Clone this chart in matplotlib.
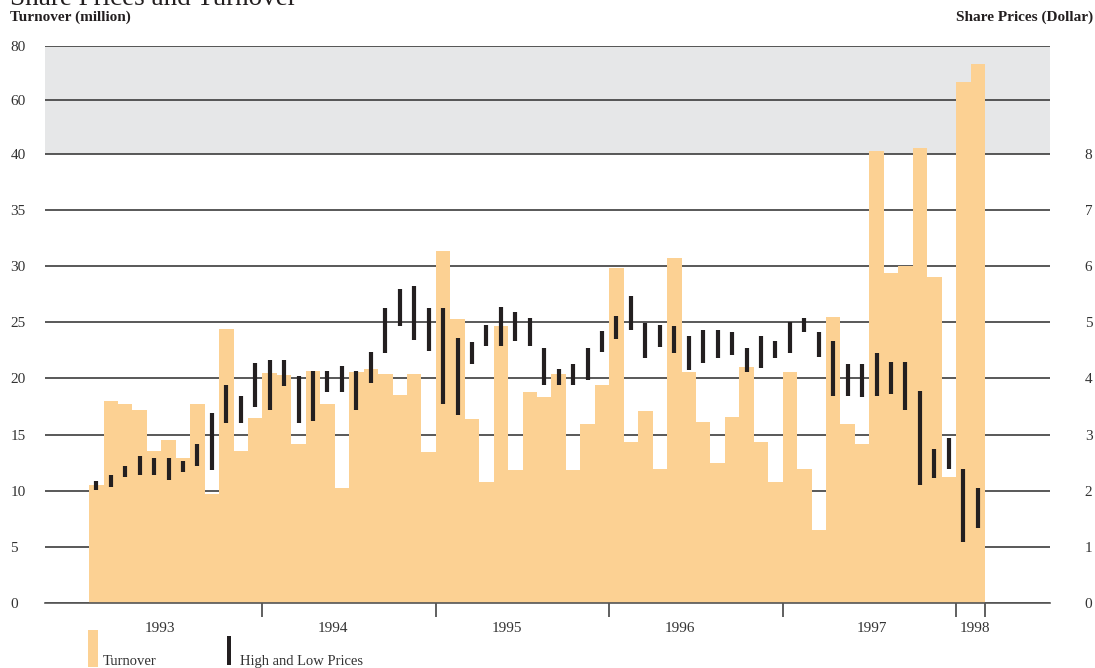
import numpy as np
import matplotlib
matplotlib.use('Agg')
import matplotlib.pyplot as plt
from matplotlib.patches import Rectangle

plt.rcParams['font.family'] = ['Liberation Serif', 'DejaVu Serif']

# monthly data, Jan 1993 - Feb 1998
turnover = [10.5, 18.0, 17.7, 17.15, 13.5, 14.5, 12.9, 17.7, 9.7, 24.4, 13.5, 16.5,
            20.5, 20.3, 14.15, 20.65, 17.7, 10.2, 20.6, 20.8, 20.4, 18.5, 20.35, 13.45,
            31.35, 25.3, 16.4, 10.8, 24.7, 11.8, 18.8, 18.3, 20.4, 11.8, 15.9, 19.4,
            29.85, 14.3, 17.1, 11.9, 30.7, 20.6, 16.1, 12.45, 16.6, 21.0, 14.35, 10.8,
            20.6, 11.9, 6.5, 25.5, 15.95, 14.15, 41.2, 29.4, 30.0, 42.2, 29.0, 11.2,
            66.8, 73.5]
price_high = [2.18, 2.28, 2.44, 2.62, 2.58, 2.58, 2.53, 2.83, 3.38, 3.89, 3.69, 4.28,
              4.32, 4.32, 4.04, 4.13, 4.13, 4.22, 4.13, 4.47, 5.25, 5.59, 5.64, 5.25,
              5.25, 4.72, 4.65, 4.96, 5.28, 5.18, 5.07, 4.55, 4.16, 4.25, 4.55, 4.85,
              5.11, 5.47, 4.98, 4.96, 4.94, 4.75, 4.87, 4.87, 4.82, 4.54, 4.75, 4.66,
              5.01, 5.07, 4.82, 4.66, 4.25, 4.25, 4.46, 4.29, 4.29, 3.77, 2.74, 2.93,
              2.39, 2.05]
price_low = [2.02, 2.06, 2.24, 2.28, 2.28, 2.19, 2.33, 2.44, 2.37, 3.20, 3.20, 3.49,
             3.44, 3.86, 3.20, 3.25, 3.75, 3.75, 3.44, 3.91, 4.45, 4.94, 4.68, 4.49,
             3.54, 3.34, 4.26, 4.57, 4.57, 4.66, 4.57, 3.89, 3.89, 3.89, 3.98, 4.47,
             4.70, 4.87, 4.36, 4.56, 4.46, 4.15, 4.27, 4.36, 4.42, 4.11, 4.18, 4.37,
             4.46, 4.82, 4.39, 3.68, 3.68, 3.66, 3.68, 3.72, 3.43, 2.10, 2.22, 2.38,
             1.08, 1.33]
years = ['1993', '1994', '1995', '1996', '1997', '1998']
year_label_pos = [4.4, 16.4, 28.4, 40.4, 53.7, 60.8]
year_bounds = [11.5, 23.5, 35.5, 47.5, 59.5, 61.5]
left_ticks = [0, 5, 10, 15, 20, 25, 30, 35, 40, 60, 80]
right_ticks = [0, 1, 2, 3, 4, 5, 6, 7, 8]

BAR = '#fcd193'
DARK = '#231f20'
K = 0.24  # compression of the 40-80 band


def fwd(y):
    y = np.asarray(y, dtype=float)
    return np.where(y <= 40, y, 40 + (y - 40) * K)


def inv(v):
    v = np.asarray(v, dtype=float)
    return np.where(v <= 40, v, 40 + (v - 40) / K)


fig = plt.figure(figsize=(10.95, 6.68), dpi=100)
ax = fig.add_axes([45 / 1095, 1 - 603 / 668, 1005 / 1095, 557 / 668])

x = np.arange(len(turnover))
ax.set_yscale('function', functions=(fwd, inv))
ax.axhspan(40, 80, color='#e6e7e8', zorder=0, lw=0)
ax.bar(x, turnover, width=1.0, color=BAR, linewidth=0, zorder=2)
ax.set_ylim(0, 80)
ax.set_xlim(-3.55, 66.0)
ax.set_yticks(left_ticks)
ax.set_yticklabels([str(t) for t in left_ticks])
ax.yaxis.grid(True, color='#3c3c3c', lw=1.2)
ax.set_axisbelow(True)
ax.tick_params(axis='y', length=0, pad=25, labelsize=11, labelcolor='#333333')
for lab in ax.get_yticklabels():
    lab.set_ha('left')

# x axis: year boundary ticks + centred year labels
ax.set_xticks(year_bounds)
ax.set_xticklabels([''] * len(year_bounds))
ax.set_xticks(year_label_pos, minor=True)
ax.set_xticklabels(years, minor=True)
ax.tick_params(axis='x', which='major', length=10, width=1.2, color='#444444', direction='out')
ax.tick_params(axis='x', which='minor', length=0, pad=14, labelsize=11, labelcolor='#333333')

for s in ['left', 'right', 'top']:
    ax.spines[s].set_visible(False)
ax.spines['bottom'].set_color('#555555')
ax.spines['bottom'].set_linewidth(1.2)

# share prices on right axis
ax2 = ax.twinx()
ax2.set_yscale('function', functions=(lambda p: fwd(np.asarray(p) * 5), lambda v: inv(v) / 5))
ax2.set_ylim(0, 16)
ax2.vlines(x, price_low, price_high, color=DARK, lw=3, zorder=3)
ax2.set_yticks(right_ticks)
ax2.set_yticklabels([str(t) for t in right_ticks])
ax2.tick_params(axis='y', length=0, pad=25, labelsize=11, labelcolor='#333333')
for s in ax2.spines.values():
    s.set_visible(False)

# titles
fig.text(10 / 1095, 1 - 5 / 668, 'Share Prices and Turnover', fontsize=19.5, ha='left', va='baseline', color=DARK)
fig.text(10 / 1095, 1 - 21 / 668, 'Turnover (million)', fontsize=11, fontweight='bold', ha='left', va='baseline', color=DARK)
fig.text(1093 / 1095, 1 - 21 / 668, 'Share Prices (Dollar)', fontsize=11, fontweight='bold', ha='right', va='baseline', color=DARK)

# legend
fig.add_artist(Rectangle((88 / 1095, 1 - 667 / 668), 10 / 1095, 37 / 668, transform=fig.transFigure, color=BAR, lw=0))
fig.text(103 / 1095, 1 - 665 / 668, 'Turnover', fontsize=10.5, ha='left', va='baseline', color='#333333')
fig.add_artist(Rectangle((227 / 1095, 1 - 665 / 668), 4 / 1095, 29 / 668, transform=fig.transFigure, color=DARK, lw=0))
fig.text(240 / 1095, 1 - 665 / 668, 'High and Low Prices', fontsize=10.5, ha='left', va='baseline', color='#333333')

fig.savefig('out.png', dpi=100)
